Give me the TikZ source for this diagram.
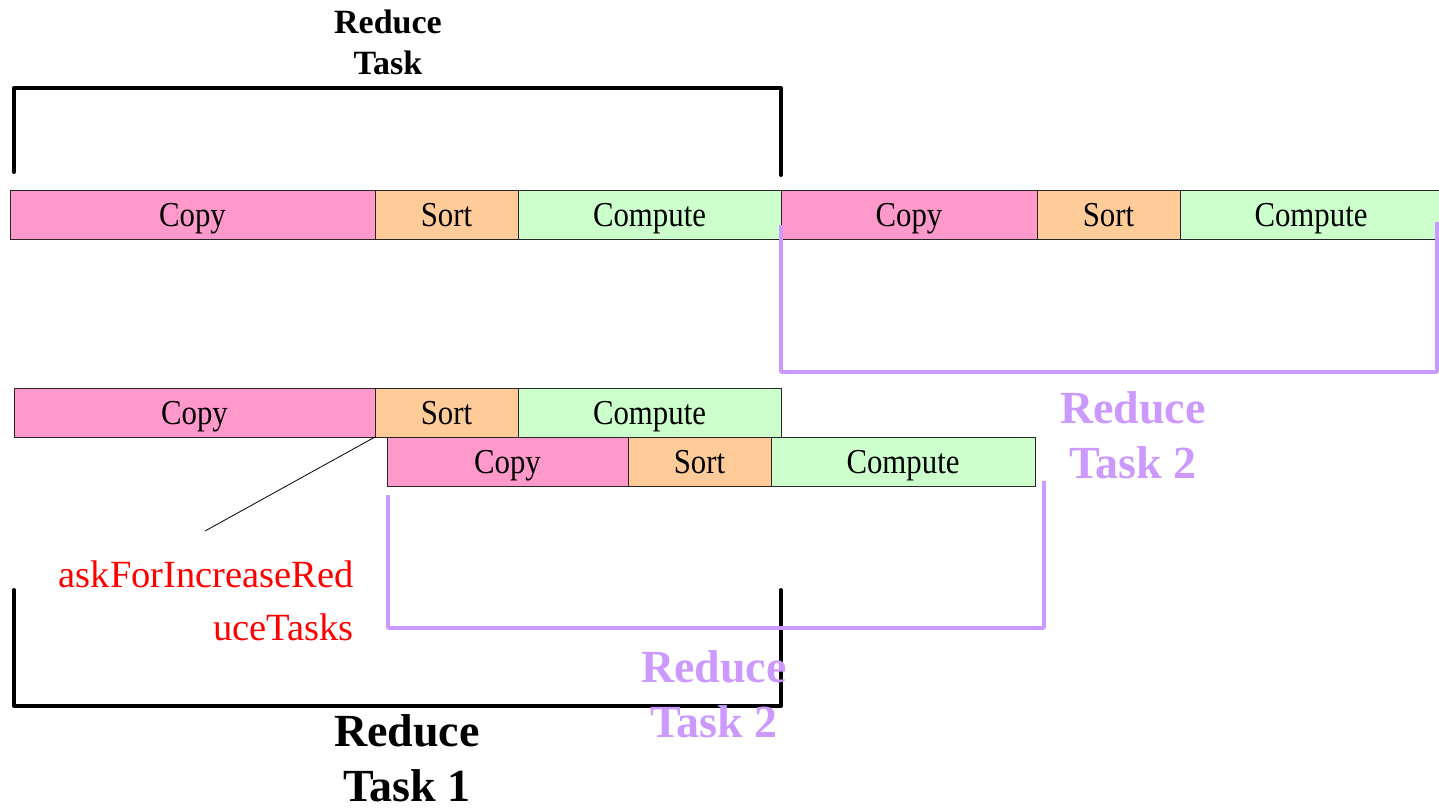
\documentclass[tikz,border=0pt]{standalone}
\usepackage{fontspec}
\setmainfont{Liberation Serif}
\newfontfamily\barfont[FakeStretch=0.88]{Liberation Serif}
\definecolor{copypink}{HTML}{FF99CC}
\definecolor{sortorange}{HTML}{FFCC99}
\definecolor{computegreen}{HTML}{CCFFCC}
\definecolor{taskpurple}{HTML}{CC99FF}
\begin{document}
\begin{tikzpicture}[x=1pt, y=-1pt,
	phase/.style={draw=black!85, line width=1pt, inner sep=0pt, outer sep=0pt, minimum height=49pt,
		text height=23pt, text depth=0pt, font=\barfont\fontsize{35}{40}\selectfont},
	copybar/.style={phase, fill=copypink},
	sortbar/.style={phase, fill=sortorange, minimum width=143pt},
	computebar/.style={phase, fill=computegreen},
	blackbracket/.style={draw=black, line width=4pt, line cap=round, line join=round},
	purplebracket/.style={draw=taskpurple, line width=3.5pt, line join=round},
	tasklabel/.style={align=center, inner sep=0pt, font=\bfseries\fontsize{46}{55}\selectfont}]
	\useasboundingbox (0,0) rectangle (1439,808);
	% first reduce task, then the second one after it
	\node[copybar, minimum width=365pt, anchor=north west] (copyA) at (10,190) {Copy};
	\node[sortbar, anchor=west] (sortA) at (copyA.east) {Sort};
	\node[computebar, minimum width=263pt, anchor=west] (computeA) at (sortA.east) {Compute};
	\node[copybar, minimum width=256pt, anchor=west] (copyB) at (computeA.east) {Copy};
	\node[sortbar, anchor=west] (sortB) at (copyB.east) {Sort};
	\node[computebar, minimum width=262pt, anchor=west] (computeB) at (sortB.east) {Compute};
	% second reduce task started early
	\node[copybar, minimum width=361pt, anchor=north west] (copyC) at (14,388) {Copy};
	\node[sortbar, anchor=west] (sortC) at (copyC.east) {Sort};
	\node[computebar, minimum width=263pt, anchor=west] (computeC) at (sortC.east) {Compute};
	\node[copybar, minimum width=241pt, anchor=north west] (copyD) at (387,437) {Copy};
	\node[sortbar, anchor=west] (sortD) at (copyD.east) {Sort};
	\node[computebar, minimum width=264pt, anchor=west] (computeD) at (sortD.east) {Compute};
	% brackets
	\draw[blackbracket] (14,172)--(14,88)--(781,88)--(781,175);
	\draw[purplebracket] (781,225)--(781,372)--(1437,372)--(1437,222);
	\draw[blackbracket] (14,590)--(14,706)--(781,706)--(781,590);
	\draw[purplebracket] (388,495)--(388,628)--(1044,628)--(1044,481);
	% labels
	\coordinate (askend) at (205,531);
	\draw[line width=0.8pt] (sortC.south west) -- (askend);
	\node[align=right, anchor=east, inner sep=0pt, text=red,
		font=\fontsize{38.5}{53}\selectfont] (ask) at (354,601) {askForIncreaseRed\\uceTasks};
	\node[tasklabel, font=\bfseries\fontsize{34}{41}\selectfont] (taskTop) at (388,42) {Reduce\\Task};
	\node[tasklabel] (taskOne) at (407,758) {Reduce\\Task 1};
	\node[tasklabel, text=taskpurple] (taskTwoA) at (1133,435) {Reduce\\Task 2};
	\node[tasklabel, text=taskpurple] (taskTwoB) at (714,694) {Reduce\\Task 2};
\end{tikzpicture}
\end{document}
